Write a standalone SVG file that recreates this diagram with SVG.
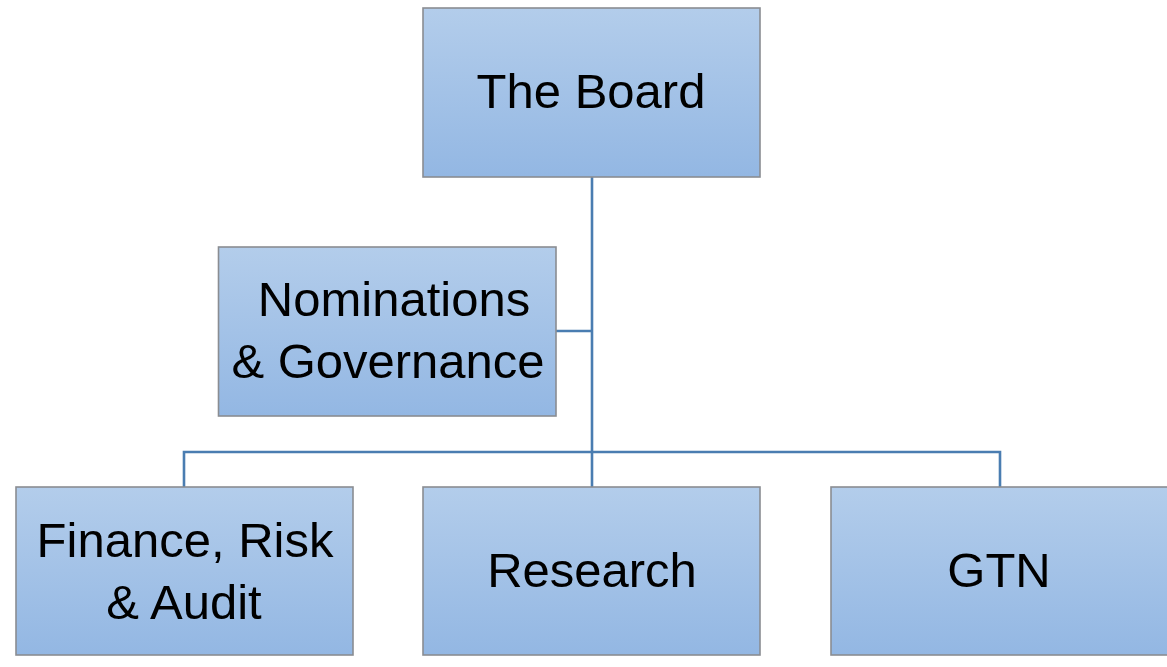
<svg xmlns="http://www.w3.org/2000/svg" width="1167" height="667" viewBox="0 0 1167 667">
<defs>
<linearGradient id="fill" x1="0" y1="0" x2="0" y2="1">
<stop offset="0" stop-color="#b3cdeb"/>
<stop offset="1" stop-color="#93b7e3"/>
</linearGradient>
<style>
.box{fill:url(#fill);stroke:#8a8d92;stroke-width:1.6}
.lbl{font-family:"Liberation Sans",Arial,sans-serif;font-size:49px;fill:#000;text-anchor:middle}
.con{fill:none;stroke:#4a7db1;stroke-width:2.6}
</style>
</defs>
<rect width="1167" height="667" fill="#fff"/>
<g id="connectors">
<line class="con" x1="592" y1="177" x2="592" y2="487"/>
<line class="con" x1="556" y1="331" x2="592" y2="331"/>
<polyline class="con" points="184,487 184,452 1000,452 1000,487"/>
</g>
<g id="board">
<rect class="box" x="423" y="8" width="337" height="169"/>
<text class="lbl" x="591" y="108">The Board</text>
</g>
<g id="nominations">
<rect class="box" x="218.5" y="247" width="337.5" height="169"/>
<text class="lbl" x="394" y="316">Nominations</text>
<text class="lbl" x="388" y="378">&amp; Governance</text>
</g>
<g id="finance">
<rect class="box" x="16" y="487" width="337" height="168"/>
<text class="lbl" x="185" y="557">Finance, Risk</text>
<text class="lbl" x="184" y="619">&amp; Audit</text>
</g>
<g id="research">
<rect class="box" x="423" y="487" width="337" height="168"/>
<text class="lbl" x="592" y="587">Research</text>
</g>
<g id="gtn">
<rect class="box" x="831" y="487" width="337" height="168"/>
<text class="lbl" x="999" y="587">GTN</text>
</g>
</svg>
